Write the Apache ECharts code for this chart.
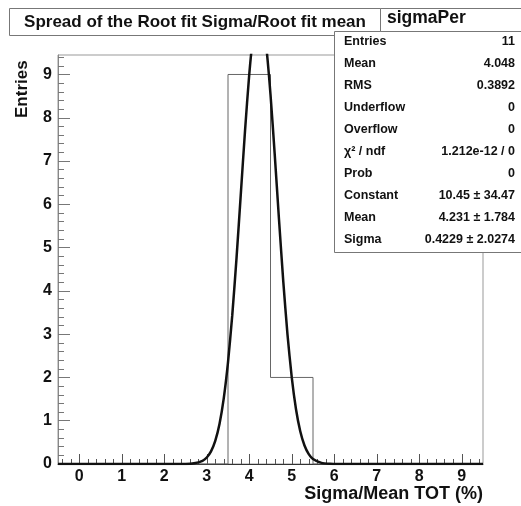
<!DOCTYPE html>
<html>
<head>
<meta charset="utf-8">
<script src="https://cdn.jsdelivr.net/npm/echarts@6/dist/echarts.min.js"></script>
<style>
  html, body { margin: 0; padding: 0; background: #fff; }
  #main { width: 521px; height: 506px; }
</style>
</head>
<body>
<div id="main"></div>
<script>
// histogram bins (centres) and counts
var binCenters = [0, 1, 2, 3, 4, 5, 6, 7, 8, 9];
var binCounts = [0, 0, 0, 0, 9, 2, 0, 0, 0, 0];

// gaussian fit curve
var fitX = [-0.5, 2.5, 2.7, 2.9, 3.0, 3.1, 3.2, 3.3, 3.4, 3.5, 3.6, 3.7, 3.8, 3.9, 4.0, 4.1, 4.2, 4.3, 4.4, 4.5, 4.6, 4.7, 4.8, 4.9, 5.0, 5.1, 5.2, 5.3, 5.4, 5.5, 5.7, 5.9, 6.1, 9.5];
var fitY = [0, 0.002, 0.015, 0.074, 0.151, 0.292, 0.535, 0.926, 1.516, 2.346, 3.433, 4.75, 6.218, 7.692, 9.002, 9.961, 10.422, 10.312, 9.648, 8.537, 7.142, 5.65, 4.227, 2.991, 2.0, 1.265, 0.757, 0.428, 0.229, 0.116, 0.025, 0.004, 0, 0];

// axis labels
var xTicks = [0, 1, 2, 3, 4, 5, 6, 7, 8, 9];
var yTicks = [0, 1, 2, 3, 4, 5, 6, 7, 8, 9];

// stats box
var statNames = ['Entries', 'Mean', 'RMS', 'Underflow', 'Overflow', 'χ² / ndf', 'Prob', 'Constant', 'Mean', 'Sigma'];
var statValues = ['11', '4.048', '0.3892', '0', '0', '1.212e-12 / 0', '0', '10.45 ± 34.47', '4.231 ± 1.784', '0.4229 ± 2.0274'];

var FONT = 'Liberation Sans, Arial, sans-serif';

// histogram outline points (right bin edges, step start)
var histData = [[binCenters[0] - 0.5, binCounts[0]]];
binCenters.forEach(function (c, i) {
    histData.push([c + 0.5, binCounts[i]]);
});
var fitData = fitX.map(function (x, i) { return [x, fitY[i]]; });

function minorTicks(lo, hi) {
    var out = [];
    for (var k = Math.round(lo * 5); k <= Math.round(hi * 5); k++) {
        if (k % 5 !== 0) out.push(k / 5);
    }
    return out;
}

var myChart = echarts.init(document.getElementById('main'));

var graphics = [
    { type: 'rect', shape: { x: 9.5, y: 8.5, width: 371, height: 27 },
      style: { fill: '#fff', stroke: '#777', lineWidth: 1 } },
    { type: 'text', x: 195, y: 22,
      style: { text: 'Spread of the Root fit Sigma/Root fit mean', font: 'bold 17px ' + FONT,
               fill: '#111', align: 'center', verticalAlign: 'middle' } },
    { type: 'rect', shape: { x: 334.5, y: 31.5, width: 200, height: 221 },
      style: { fill: '#fff', stroke: '#777', lineWidth: 1 } },
    { type: 'rect', shape: { x: 380.5, y: 8.5, width: 150, height: 23 },
      style: { fill: '#fff', stroke: '#777', lineWidth: 1 } },
    { type: 'text', x: 387, y: 18,
      style: { text: 'sigmaPer', font: 'bold 17.5px ' + FONT, fill: '#111',
               align: 'left', verticalAlign: 'middle' } },
    { type: 'text', x: 22, y: 118, rotation: Math.PI / 2,
      style: { text: 'Entries', font: 'bold 17px ' + FONT, fill: '#111',
               align: 'left', verticalAlign: 'middle' } },
    { type: 'text', x: 483, y: 494,
      style: { text: 'Sigma/Mean TOT (%)', font: 'bold 18px ' + FONT, fill: '#111',
               align: 'right', verticalAlign: 'middle' } }
];
statNames.forEach(function (n, i) {
    var y = 42 + i * 21.9;
    graphics.push({ type: 'text', x: 344, y: y,
        style: { text: n, font: 'bold 12.5px ' + FONT, fill: '#111', align: 'left', verticalAlign: 'middle' } });
    graphics.push({ type: 'text', x: 515, y: y,
        style: { text: statValues[i], font: 'bold 12.5px ' + FONT, fill: '#111', align: 'right', verticalAlign: 'middle' } });
});

var option = {
    backgroundColor: '#fff',
    animation: false,
    grid: { left: 58, right: 38, top: 55, bottom: 42, show: true, borderColor: '#999', borderWidth: 1,
            containLabel: false, outerBoundsMode: 'none' },
    xAxis: [{
        type: 'value', min: -0.5, max: 9.5,
        axisLine: { show: true, onZero: false, lineStyle: { color: '#333', width: 1 } },
        axisTick: { show: true, inside: true, length: 10, customValues: xTicks, lineStyle: { color: '#555' } },
        axisLabel: { customValues: xTicks, margin: 5, fontWeight: 'bold', fontSize: 16, fontFamily: FONT, color: '#111' },
        splitLine: { show: false }
    }, {
        type: 'value', min: -0.5, max: 9.5, position: 'bottom',
        axisLine: { show: false, onZero: false },
        axisTick: { show: true, inside: true, length: 5, customValues: minorTicks(-0.5, 9.5), lineStyle: { color: '#555' } },
        axisLabel: { show: false },
        splitLine: { show: false }
    }],
    yAxis: [{
        type: 'value', min: 0, max: 9.45,
        axisLine: { show: true, onZero: false, lineStyle: { color: '#888', width: 1 } },
        axisTick: { show: true, inside: true, length: 12, customValues: yTicks, lineStyle: { color: '#777' } },
        axisLabel: { customValues: yTicks, margin: 6, fontWeight: 'bold', fontSize: 16, fontFamily: FONT, color: '#111' },
        splitLine: { show: false }
    }, {
        type: 'value', min: 0, max: 9.45, position: 'left',
        axisLine: { show: false, onZero: false },
        axisTick: { show: true, inside: true, length: 6, customValues: minorTicks(0, 9.45), lineStyle: { color: '#777' } },
        axisLabel: { show: false },
        splitLine: { show: false }
    }],
    series: [{
        type: 'line', step: 'start', data: histData, symbol: 'none',
        xAxisIndex: 0, yAxisIndex: 0,
        lineStyle: { color: '#666', width: 1 }, z: 2
    }, {
        type: 'line', data: fitData, symbol: 'none', smooth: 0.2,
        xAxisIndex: 0, yAxisIndex: 0, clip: true,
        lineStyle: { color: '#111', width: 2.5 }, z: 3
    }],
    graphic: graphics
};
myChart.setOption(option);
window.addEventListener('resize', function () {
    myChart.resize();
});
</script>
</body>
</html>
